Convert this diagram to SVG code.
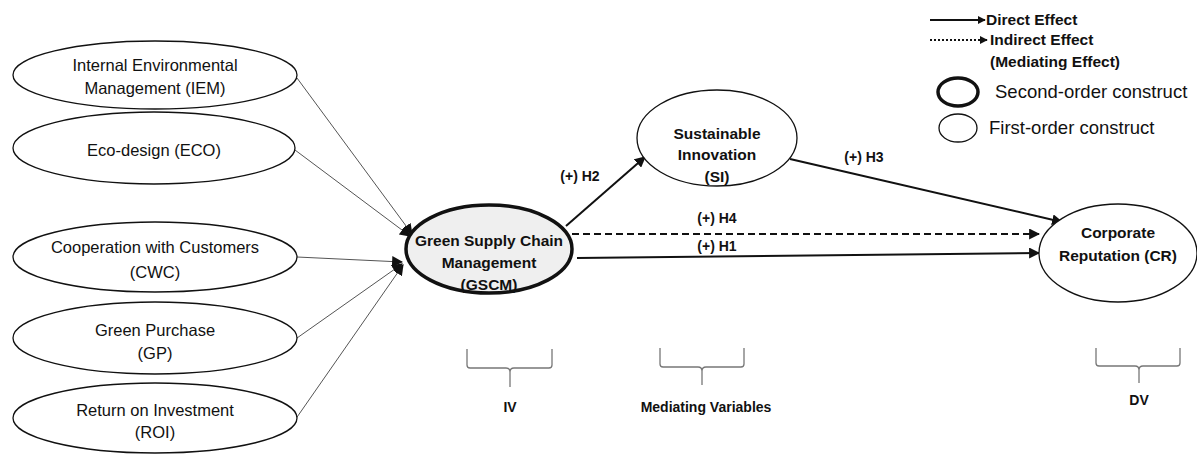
<svg xmlns="http://www.w3.org/2000/svg" width="1197" height="455" viewBox="0 0 1197 455">
<defs>
<style>
text{font-family:"Liberation Sans",Arial,sans-serif;fill:#111;text-anchor:middle}
.r{font-size:16.5px}
.b{font-size:15.5px;font-weight:bold}
.h{font-size:14px;font-weight:bold}
.lg{font-size:18.5px}
.l{text-anchor:start}
.e{fill:#fff;stroke:#111;stroke-width:1.3}
.thin{stroke:#555;stroke-width:1;fill:none}
.main{stroke:#111;stroke-width:2;fill:none}
.brace{stroke:#777;stroke-width:1.3;fill:none}
</style>
<marker id="ah" viewBox="0 0 10 10" refX="9" refY="5" markerWidth="8" markerHeight="8" markerUnits="userSpaceOnUse" orient="auto"><path d="M0,0L10,5L0,10z" fill="#111"/></marker>
<marker id="ahs" viewBox="0 0 10 10" refX="9" refY="5" markerWidth="11" markerHeight="11" markerUnits="userSpaceOnUse" orient="auto"><path d="M0,0L10,5L0,10z" fill="#111"/></marker>
</defs>

<g id="connectors">
<line class="thin" x1="297" y1="78" x2="412" y2="234" marker-end="url(#ahs)"/>
<line class="thin" x1="295" y1="150" x2="410" y2="236" marker-end="url(#ahs)"/>
<line class="thin" x1="297" y1="257" x2="402" y2="262" marker-end="url(#ahs)"/>
<line class="thin" x1="297" y1="338" x2="402" y2="264" marker-end="url(#ahs)"/>
<line class="thin" x1="295" y1="420" x2="403" y2="265" marker-end="url(#ahs)"/>
<line class="main" x1="566" y1="226" x2="645" y2="157" marker-end="url(#ahs)"/>
<line class="main" x1="572" y1="234" x2="1039" y2="234" stroke-dasharray="7,4" marker-end="url(#ahs)"/>
<line class="main" x1="577" y1="258" x2="1039" y2="253" marker-end="url(#ahs)"/>
<line class="main" x1="790" y1="159" x2="1062" y2="222" marker-end="url(#ahs)"/>
<text class="h" x="580" y="181">(+) H2</text>
<text class="h" x="717" y="223">(+) H4</text>
<text class="h" x="717" y="251">(+) H1</text>
<text class="h" x="864" y="162">(+) H3</text>
</g>

<g id="IEM"><ellipse class="e" cx="155" cy="75" rx="142" ry="34"/>
<text class="r" x="155" y="71">Internal Environmental</text><text class="r" x="155" y="94">Management (IEM)</text></g>
<g id="ECO"><ellipse class="e" cx="154" cy="148" rx="141" ry="36"/>
<text class="r" x="154" y="156">Eco-design  (ECO)</text></g>
<g id="CWC"><ellipse class="e" cx="155" cy="257" rx="142" ry="35"/>
<text class="r" x="155" y="253">Cooperation with Customers</text><text class="r" x="155" y="278">(CWC)</text></g>
<g id="GP"><ellipse class="e" cx="155" cy="338" rx="142" ry="36"/>
<text class="r" x="155" y="336">Green Purchase</text><text class="r" x="155" y="359">(GP)</text></g>
<g id="ROI"><ellipse class="e" cx="155" cy="418" rx="142" ry="35"/>
<text class="r" x="155" y="416">Return on Investment</text><text class="r" x="155" y="438">(ROI)</text></g>

<g id="GSCM"><ellipse cx="489" cy="249" rx="83" ry="44" fill="#efefef" stroke="#111" stroke-width="3.5"/>
<text class="b" x="489" y="246">Green Supply Chain</text><text class="b" x="489" y="268">Management</text><text class="b" x="489" y="290">(GSCM)</text></g>

<g id="SI"><ellipse class="e" cx="717" cy="138" rx="80" ry="48"/>
<text class="b" x="717" y="139">Sustainable</text><text class="b" x="717" y="160">Innovation</text><text class="b" x="717" y="182">(SI)</text></g>

<g id="CR"><ellipse class="e" cx="1118" cy="253" rx="79" ry="49"/>
<text class="b" x="1118" y="238">Corporate</text><text class="b" x="1118" y="261">Reputation (CR)</text></g>

<g id="legend">
<line class="main" x1="930" y1="20" x2="985" y2="20" stroke-width="1.8" marker-end="url(#ah)"/>
<line class="main" x1="930" y1="40" x2="987" y2="40" stroke-width="1.8" stroke-dasharray="2,2" marker-end="url(#ah)"/>
<text class="b l" x="986" y="25">Direct Effect</text>
<text class="b l" x="990" y="45">Indirect Effect</text>
<text class="b l" x="990" y="67">(Mediating Effect)</text>
<ellipse cx="958" cy="92" rx="20" ry="14" fill="#fff" stroke="#111" stroke-width="3.5"/>
<text class="lg l" x="995" y="98">Second-order construct</text>
<ellipse cx="958" cy="128" rx="19" ry="14" fill="#fff" stroke="#111" stroke-width="1.3"/>
<text class="lg l" x="989" y="134">First-order construct</text>
</g>

<g id="braces">
<path class="brace" d="M467,349 V365 Q467,368 470,368 H506 Q510,368 510,372 V387 M510,372 Q510,368 514,368 H549 Q552,368 552,365 V349"/>
<path class="brace" d="M660,348 V364 Q660,367 663,367 H698 Q702,367 702,371 V385 M702,371 Q702,367 706,367 H741 Q744,367 744,364 V348"/>
<path class="brace" d="M1096,348 V363 Q1096,366 1099,366 H1135 Q1139,366 1139,370 V383 M1139,370 Q1139,366 1143,366 H1177 Q1180,366 1180,363 V348"/>
<text class="h" x="510" y="412">IV</text>
<text class="h" x="706" y="412">Mediating Variables</text>
<text class="h" x="1139" y="405">DV</text>
</g>
</svg>
